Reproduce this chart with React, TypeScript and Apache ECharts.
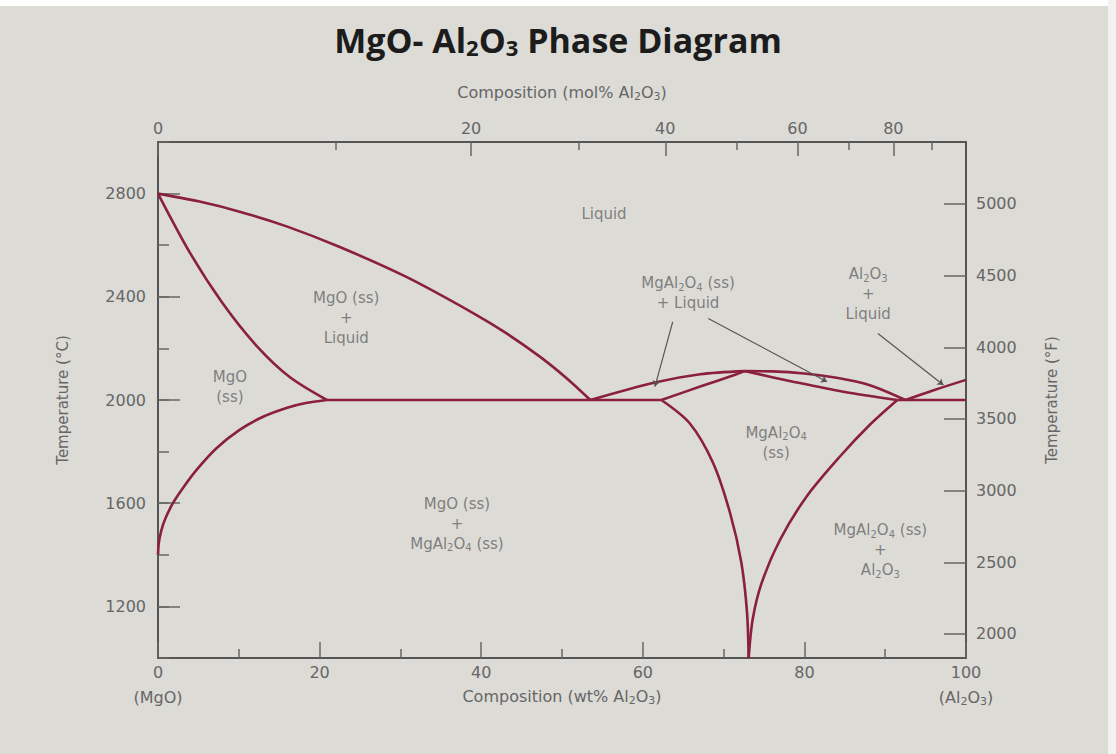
import { useEffect, useRef } from "react";
import * as echarts from "echarts";

// ---------- tick values ----------
const wtMin = 0;
const wtMax = 100;
const tempMin = 1000;
const tempMax = 3000;
const tempCLabels = [1200, 1600, 2000, 2400, 2800];
const tempFLabels = [2000, 2500, 3000, 3500, 4000, 4500, 5000];
const molLabels = [0, 20, 40, 60, 80];
const molMinor = [10, 30, 50, 70, 90];

// ---------- phase boundaries: [wt% Al2O3, °C] ----------
const liquidusMgO = [[0, 2800], [5, 2770], [10.1, 2730], [16, 2672], [22.5, 2593], [30.8, 2476], [39, 2337], [43, 2261], [47.3, 2167], [50.5, 2086], [53.5, 2000]];
const solidusMgO = [[0, 2800], [4.0, 2568], [8.0, 2375], [12.2, 2210], [16.3, 2089], [20.9, 2000]];
const solvusMgO = [[0, 1400], [0.1, 1446], [0.4, 1493], [0.9, 1540], [1.9, 1603], [3.2, 1664], [4.8, 1730], [7.2, 1812], [10.1, 1884], [13.0, 1935], [16.0, 1970], [18.3, 1988], [20.9, 2000]];
const eutecticLeft = [[20.9, 2000], [62.3, 2000]];
const spinelLiquidusLeft = [[53.5, 2000], [61.5, 2068], [67.1, 2100], [72.6, 2112]];
const spinelSolidusLeft = [[62.3, 2000], [67.1, 2052], [71.6, 2100], [72.6, 2112]];
const spinelLiquidusRight = [[72.6, 2112], [76.0, 2111], [80.0, 2103], [84.0, 2086], [88.0, 2058], [92.5, 2000]];
const spinelSolidusRight = [[72.6, 2112], [78.6, 2071], [84.8, 2032], [91.5, 2000]];
const spinelSolvusLeft = [[62.3, 2000], [65.8, 1910], [68.7, 1756], [70.8, 1562], [72.2, 1369], [72.9, 1176], [73.1, 1000]];
const spinelSolvusRight = [[91.5, 2000], [88.1, 1904], [84.4, 1781], [80.3, 1627], [77.0, 1459], [74.7, 1290], [73.6, 1150], [73.1, 1000]];
const eutecticRight = [[91.5, 2000], [100, 2000]];
const liquidusAl2O3 = [[92.5, 2000], [96, 2038], [100, 2078]];

// ---------- leader lines (start, end) and bend ----------
const leaderStarts = [[63.7, 2303], [68.1, 2316], [89.1, 2258]];
const leaderEnds = [[61.5, 2052], [82.8, 2071], [97.2, 2058]];
const leaderBend = [0.3, -0.08, 0.12];

// ---------- region labels ----------
const regionTexts = [
  "Liquid",
  "MgO (ss)\n+\nLiquid",
  "MgO\n(ss)",
  "MgAl{s|2}O{s|4} (ss)\n+ Liquid",
  "Al{s|2}O{s|3}\n+\nLiquid",
  "MgAl{s|2}O{s|4}\n(ss)",
  "MgO (ss)\n+\nMgAl{s|2}O{s|4} (ss)",
  "MgAl{s|2}O{s|4} (ss)\n+\nAl{s|2}O{s|3}",
];
const regionPositions = [
  [55.2, 2719],
  [23.3, 2317],
  [8.9, 2050],
  [65.6, 2414],
  [87.9, 2410],
  [76.5, 1834],
  [37.0, 1521],
  [89.4, 1417],
];

const M_MGO = 40.3;
const M_AL2O3 = 101.96;
const molToWt = (m: number) => {
  const a = m * M_AL2O3;
  const b = (100 - m) * M_MGO;
  return (100 * a) / (a + b);
};
const wtToMol = (w: number) => {
  const a = w / M_AL2O3;
  const b = (100 - w) / M_MGO;
  return (100 * a) / (a + b);
};
const cToF = (c: number) => c * 1.8 + 32;

const FONT = "DejaVu Sans";
const GRAY = "#666";
const AXIS = "#555";
const CURVE = "#8a1f3f";

const subStyle = (size: number, pad: number, color = GRAY, weight: any = "normal", family = FONT) => ({
  fontSize: size,
  lineHeight: size + 1,
  padding: [pad, 0, 0, 0],
  color,
  fontWeight: weight,
  fontFamily: family,
});

export default function App() {
  const ref = useRef<HTMLDivElement>(null);

  useEffect(() => {
    if (!ref.current) return;
    const chart = echarts.init(ref.current, undefined, { renderer: "svg" });

    const curve = (data: number[][], smooth: number | boolean = 0.3) => ({
      type: "line",
      data,
      xAxisIndex: 0,
      yAxisIndex: 0,
      smooth,
      symbol: "none",
      silent: true,
      lineStyle: { color: CURVE, width: 2.6 },
      z: 3,
    });

    const labelTextStyle = { color: GRAY, fontSize: 16, fontFamily: FONT };

    const option: any = {
      animation: false,
      backgroundColor: "#dcdbd6",
      title: {
        text: "MgO- Al{s|2}O{s|3} Phase Diagram",
        left: "center",
        top: 18,
        textStyle: {
          fontSize: 34,
          fontWeight: "bold",
          fontFamily: "Open Sans",
          color: "#1c1c1c",
          rich: { s: subStyle(22, 14, "#1c1c1c", "bold", "Open Sans") },
        },
      },
      grid: { left: 158, right: 150, top: 142, bottom: 96, containLabel: false },
      xAxis: [
        {
          type: "value",
          position: "bottom",
          min: wtMin,
          max: wtMax,
          interval: 20,
          name: "Composition (wt% Al{s|2}O{s|3})",
          nameLocation: "middle",
          nameGap: 30,
          nameMoveOverlap: false,
          nameTextStyle: { ...labelTextStyle, rich: { s: subStyle(11, 8) } },
          axisLine: { show: true, onZero: false, lineStyle: { color: AXIS, width: 2 } },
          axisTick: { show: true, inside: true, length: 16, lineStyle: { color: GRAY, width: 1.5 } },
          minorTick: { show: true, splitNumber: 2, length: 9, lineStyle: { color: GRAY, width: 1.5 } },
          splitLine: { show: false },
          axisLabel: {
            ...labelTextStyle,
            margin: 2,
            lineHeight: 25,
            formatter: (v: number) =>
              v === wtMin ? `${v}\n(MgO)` : v === wtMax ? `${v}\n(Al{s|2}O{s|3})` : `${v}`,
            rich: { s: subStyle(11, 8) },
          },
        },
        {
          type: "value",
          position: "top",
          min: wtMin,
          max: wtMax,
          name: "Composition (mol% Al{s|2}O{s|3})",
          nameLocation: "middle",
          nameGap: 42,
          nameMoveOverlap: false,
          nameTextStyle: { ...labelTextStyle, rich: { s: subStyle(11, 8) } },
          axisLine: { show: true, onZero: false, lineStyle: { color: AXIS, width: 2 } },
          axisTick: {
            show: true,
            inside: true,
            length: 14,
            customValues: molLabels.map(molToWt),
            lineStyle: { color: GRAY, width: 1.5 },
          },
          splitLine: { show: false },
          axisLabel: {
            ...labelTextStyle,
            margin: 6,
            customValues: molLabels.map(molToWt),
            formatter: (v: number) => `${Math.round(wtToMol(v))}`,
          },
        },
        {
          type: "value",
          position: "top",
          offset: 0,
          min: wtMin,
          max: wtMax,
          axisLine: { show: false },
          axisTick: {
            show: true,
            inside: true,
            length: 8,
            customValues: molMinor.map(molToWt),
            lineStyle: { color: GRAY, width: 1.5 },
          },
          axisLabel: { show: false },
          splitLine: { show: false },
        },
      ],
      yAxis: [
        {
          type: "value",
          position: "left",
          min: tempMin,
          max: tempMax,
          interval: 200,
          name: "Temperature (°C)",
          nameLocation: "middle",
          nameRotate: 90,
          nameGap: 88,
          nameMoveOverlap: false,
          nameTextStyle: { ...labelTextStyle, fontSize: 15 },
          axisLine: { show: true, onZero: false, lineStyle: { color: AXIS, width: 2 } },
          axisTick: { show: true, inside: true, length: 11, lineStyle: { color: GRAY, width: 1.5 } },
          splitLine: { show: false },
          axisLabel: {
            ...labelTextStyle,
            margin: 12,
            formatter: (v: number) => (tempCLabels.includes(v) ? `${v}` : ""),
          },
        },
        {
          type: "value",
          position: "right",
          min: cToF(tempMin),
          max: cToF(tempMax),
          name: "Temperature (°F)",
          nameLocation: "middle",
          nameRotate: 90,
          nameGap: 78,
          nameMoveOverlap: false,
          nameTextStyle: { ...labelTextStyle, fontSize: 15 },
          axisLine: { show: true, onZero: false, lineStyle: { color: AXIS, width: 2 } },
          axisTick: {
            show: true,
            inside: true,
            length: 22,
            customValues: tempFLabels,
            lineStyle: { color: GRAY, width: 1.5 },
          },
          splitLine: { show: false },
          axisLabel: {
            ...labelTextStyle,
            margin: 10,
            customValues: tempFLabels,
            formatter: (v: number) => `${Math.round(v)}`,
          },
        },
        {
          type: "value",
          position: "left",
          offset: 0,
          min: tempMin,
          max: tempMax,
          axisLine: { show: false },
          axisTick: {
            show: true,
            inside: true,
            length: 22,
            customValues: tempCLabels,
            lineStyle: { color: GRAY, width: 1.5 },
          },
          axisLabel: { show: false },
          splitLine: { show: false },
        },
      ],
      series: [
        curve(liquidusMgO),
        curve(solidusMgO),
        curve(solvusMgO, 0.25),
        curve(eutecticLeft, false),
        curve(spinelLiquidusLeft),
        curve(spinelSolidusLeft),
        curve(spinelLiquidusRight),
        curve(spinelSolidusRight),
        curve(spinelSolvusLeft),
        curve(spinelSolvusRight),
        curve(eutecticRight, false),
        {
          ...curve(liquidusAl2O3),
          markLine: {
            silent: true,
            symbol: ["none", "arrow"],
            symbolSize: 6,
            label: { show: false },
            lineStyle: { color: "#555", width: 1.2, type: "solid" },
            data: leaderStarts.map((s, i) => [
              { coord: s, lineStyle: { curveness: leaderBend[i], color: "#555", width: 1.2, type: "solid" } },
              { coord: leaderEnds[i] },
            ]),
          },
        },
        {
          type: "scatter",
          xAxisIndex: 0,
          yAxisIndex: 0,
          symbolSize: 1,
          silent: true,
          itemStyle: { color: "rgba(0,0,0,0)" },
          data: regionPositions,
          z: 5,
          label: {
            show: true,
            position: "inside",
            align: "center",
            verticalAlign: "middle",
            color: GRAY,
            fontSize: 15,
            fontFamily: FONT,
            lineHeight: 20,
            formatter: (p: any) => regionTexts[p.dataIndex],
            rich: { s: subStyle(10, 8) },
          },
        },
      ],
      graphic: [
        { type: "rect", left: 0, top: 0, shape: { width: 1116, height: 6 }, style: { fill: "#ffffff" }, silent: true },
        { type: "rect", right: 0, top: 0, shape: { width: 8, height: 754 }, style: { fill: "#f2f2f0" }, silent: true },
      ],
    };

    chart.setOption(option);
    return () => chart.dispose();
  }, []);

  return (
    <div
      ref={ref}
      style={{ position: "fixed", left: 0, top: 0, width: 1116, height: 754 }}
    />
  );
}
